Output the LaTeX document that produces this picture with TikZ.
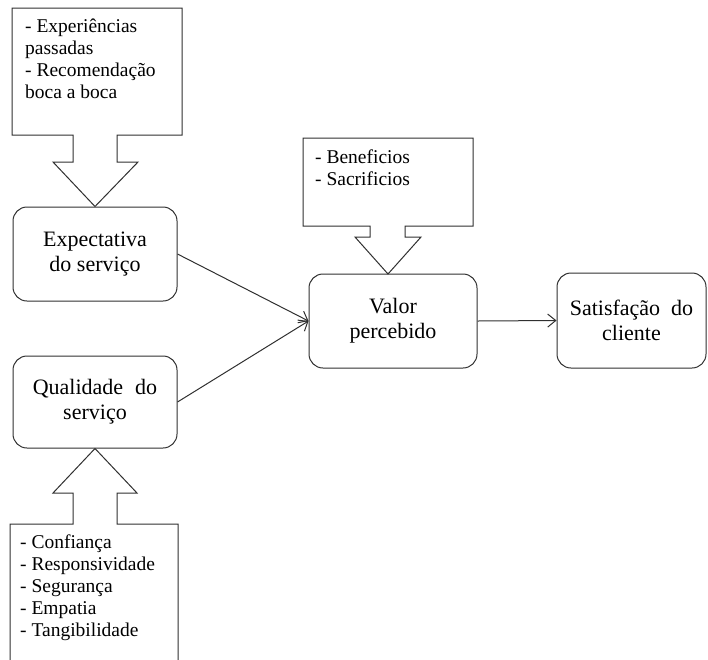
\documentclass[tikz,border=0pt]{standalone}
\usepackage{fontspec}
\setmainfont{Liberation Serif}
\usetikzlibrary{arrows.meta}
\definecolor{linec}{HTML}{303030}
\begin{document}
\begin{tikzpicture}[x=1pt,y=-1pt,
  mainbox/.style={draw=linec, line width=1pt, rounded corners=14pt, align=center,
    font=\fontsize{22}{25}\selectfont, inner sep=0pt},
  calloutline/.style={draw=linec, line width=1pt, fill=white, line join=miter},
  callouttext/.style={anchor=north west, align=left, inner sep=0pt,
    font=\fontsize{19.5}{21.8}\selectfont},
  conn/.style={draw=linec, line width=1pt, -{Straight Barb[length=8pt,width=13pt]}}
]
\useasboundingbox (0,0) rectangle (708,659);

% main boxes
\node[mainbox, minimum width=164pt, minimum height=94pt] (exp) at (95,254) {Expectativa\\do serviço};
\node[mainbox, minimum width=164pt, minimum height=92pt] (qual) at (95,402) {Qualidade\hspace{12pt}do\\serviço};
\node[mainbox, minimum width=168pt, minimum height=94pt] (val) at (393,321) {Valor\\percebido};
\node[mainbox, minimum width=149pt, minimum height=95pt] (sat) at (631.5,320.5) {Satisfação\hspace{11pt}do\\cliente};

% callout arrows
\coordinate (tipB) at (388,274);
\draw[calloutline] (12,8) -- (182,8) -- (182,135) -- (117,135) -- (117,162) -- (138,162)
  -- (exp.north) -- (53,162) -- (73,162) -- (73,135) -- (12,135) -- cycle;
\draw[calloutline] (303,138) -- (473,138) -- (473,226) -- (405,226) -- (405,237) -- (421,237)
  -- (tipB) -- (355,237) -- (370,237) -- (370,226) -- (303,226) -- cycle;
\draw[calloutline] (10,662) -- (10,524) -- (73,524) -- (73,493) -- (53,493) -- (qual.south)
  -- (137,493) -- (117,493) -- (117,524) -- (178,524) -- (178,662);

% callout texts
\node[callouttext] (t1) at (25,19) {- Experiências\\passadas\\- Recomendação\\boca a boca};
\node[callouttext] (t2) at (315,150) {- Beneficios\\- Sacrificios};
\node[callouttext] (t3) at (20,535) {- Confiança\\- Responsividade\\- Segurança\\- Empatia\\- Tangibilidade};

% connectors
\draw[conn] (exp.east) -- (val.west);
\draw[conn] (qual.east) -- (val.west);
\draw[conn] (val.east) -- (sat.west);
\end{tikzpicture}
\end{document}
